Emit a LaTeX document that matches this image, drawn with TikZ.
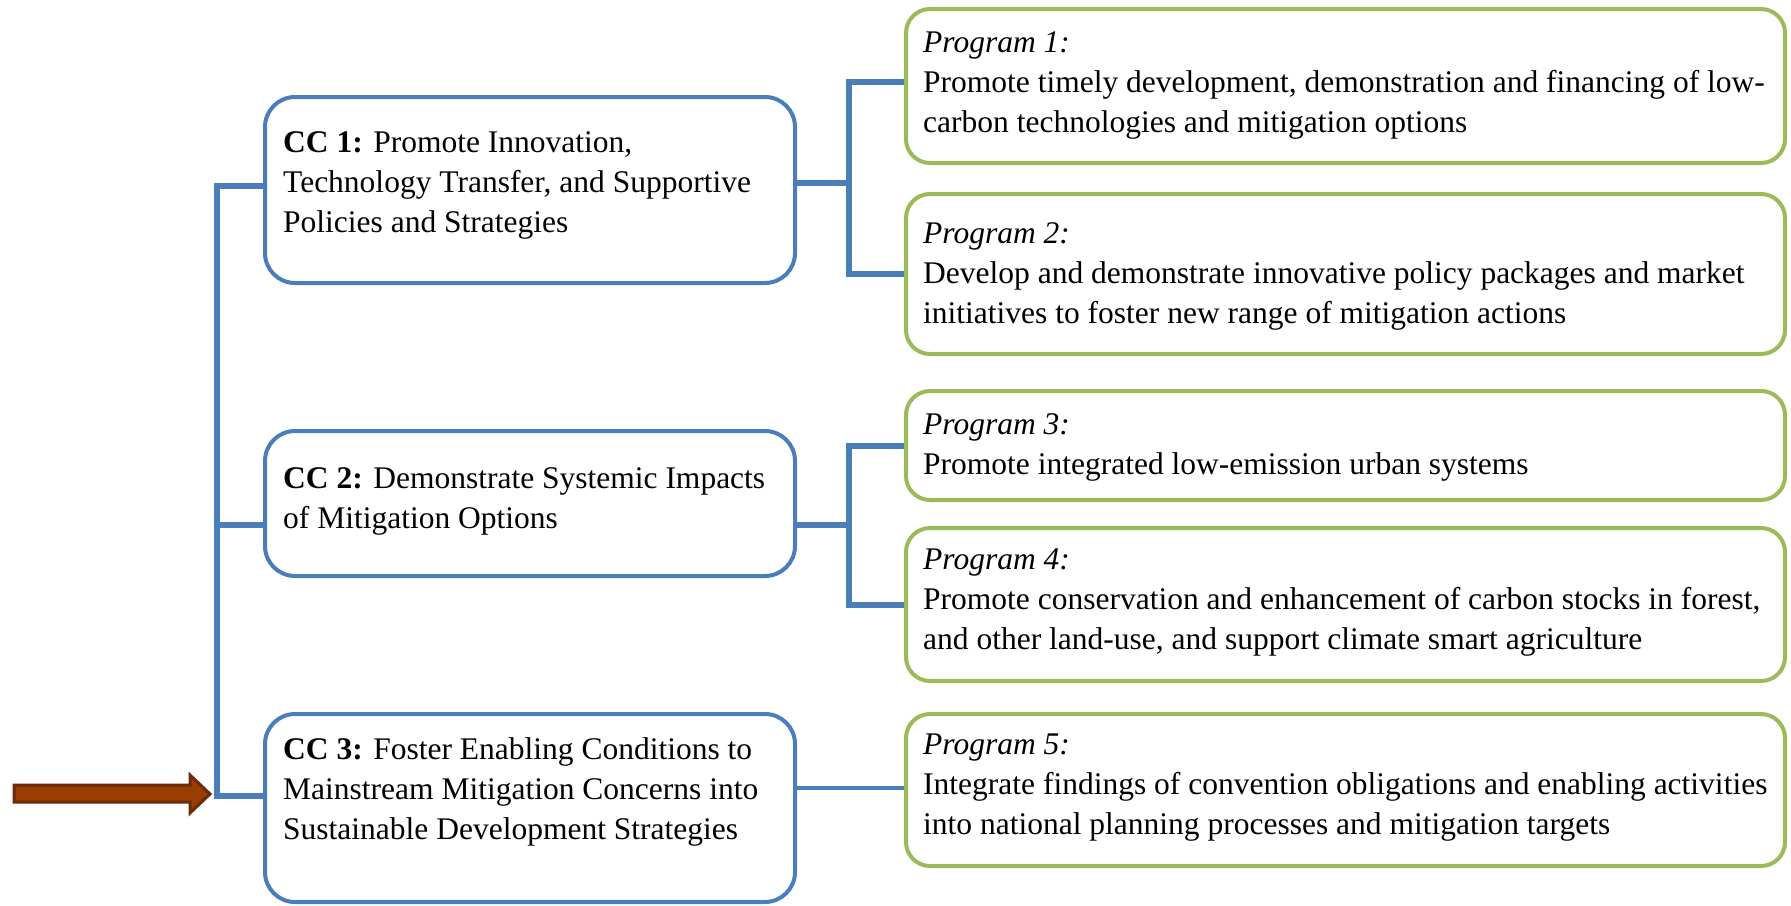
\documentclass[tikz,border=0pt]{standalone}
\usepackage{fontspec}
\setmainfont{Liberation Serif}
\definecolor{boxblue}{HTML}{4A7EBB}
\definecolor{boxgreen}{HTML}{9BBB59}
\definecolor{arrfill}{HTML}{993D00}
\definecolor{arrdark}{HTML}{6B2A0A}
\tikzset{
  ccbox/.style={draw=boxblue, line width=4pt, rounded corners=30pt, inner sep=0pt, minimum width=530pt},
  pgbox/.style={draw=boxgreen, line width=4pt, rounded corners=24pt, inner sep=0pt, minimum width=879pt},
  conn/.style={draw=boxblue, line width=6pt},
  thinconn/.style={draw=boxblue, line width=4pt},
  txt/.style={anchor=west, align=left, inner sep=0pt, font=\fontsize{31.5}{40}\selectfont},
}
\begin{document}
\begin{tikzpicture}[x=1pt,y=-1pt]
\useasboundingbox (0,0) rectangle (1791,905);
% CC boxes
\node[ccbox, minimum height=186pt] (cc1) at (530,190) {};
\node[ccbox, minimum height=145pt] (cc2) at (530,503.5) {};
\node[ccbox, minimum height=188pt] (cc3) at (530,808) {};
% program boxes
\node[pgbox, minimum height=154pt] (p1) at (1345.5,86) {};
\node[pgbox, minimum height=160pt] (p2) at (1345.5,274) {};
\node[pgbox, minimum height=109pt] (p3) at (1345.5,445.5) {};
\node[pgbox, minimum height=153pt] (p4) at (1345.5,604.5) {};
\node[pgbox, minimum height=152pt] (p5) at (1345.5,790) {};
% texts
\node[txt] (t1) at (283,185) {\textbf{CC 1:} Promote Innovation,\\Technology Transfer, and Supportive\\Policies and Strategies};
\node[txt] (t2) at (283,501) {\textbf{CC 2:} Demonstrate Systemic Impacts\\of Mitigation Options};
\node[txt] (t3) at (283,792) {\textbf{CC 3:} Foster Enabling Conditions to\\Mainstream Mitigation Concerns into\\Sustainable Development Strategies};
\node[txt] (q1) at (923,85) {\textit{Program 1:}\\Promote timely development, demonstration and financing of low-\\carbon technologies and mitigation options};
\node[txt] (q2) at (923,276) {\textit{Program 2:}\\Develop and demonstrate innovative policy packages and market\\initiatives to foster new range of mitigation actions};
\node[txt] (q3) at (923,447) {\textit{Program 3:}\\Promote integrated low-emission urban systems};
\node[txt] (q4) at (923,603) {\textit{Program 4:}\\Promote conservation and enhancement of carbon stocks in forest,\\and other land-use, and support climate smart agriculture};
\node[txt] (q5) at (923,788) {\textit{Program 5:}\\Integrate findings of convention obligations and enabling activities\\into national planning processes and mitigation targets};
% trunk
\coordinate (tk1) at (217,186);
\coordinate (tk2) at (217,525);
\coordinate (tk3) at (217,796);
\draw[conn] (tk1 -| cc1.west) -- (tk1) -- (tk3) -- (tk3 -| cc3.west);
\draw[conn] (tk2) -- (tk2 -| cc2.west);
% bracket CC1
\coordinate (b1) at (849,183);
\draw[conn] (b1 -| cc1.east) -- (b1);
\draw[conn] (p1.west |- 0,82) -| (b1) |- (p2.west);
% bracket CC2
\coordinate (b2) at (849,525);
\draw[conn] (b2 -| cc2.east) -- (b2);
\draw[conn] (p3.west) -| (b2) |- (p4.west);
% CC3 - P5
\coordinate (b3) at (849,788);
\draw[thinconn] (b3 -| cc3.east) -- (b3 -| p5.west);
% arrow
\filldraw[fill=arrfill, draw=arrdark, line width=3pt, line join=miter]
  (14,785) -- (190,785) -- (190,775) -- (210,794) -- (190,813) -- (190,802) -- (14,802) -- cycle;
\end{tikzpicture}
\end{document}
